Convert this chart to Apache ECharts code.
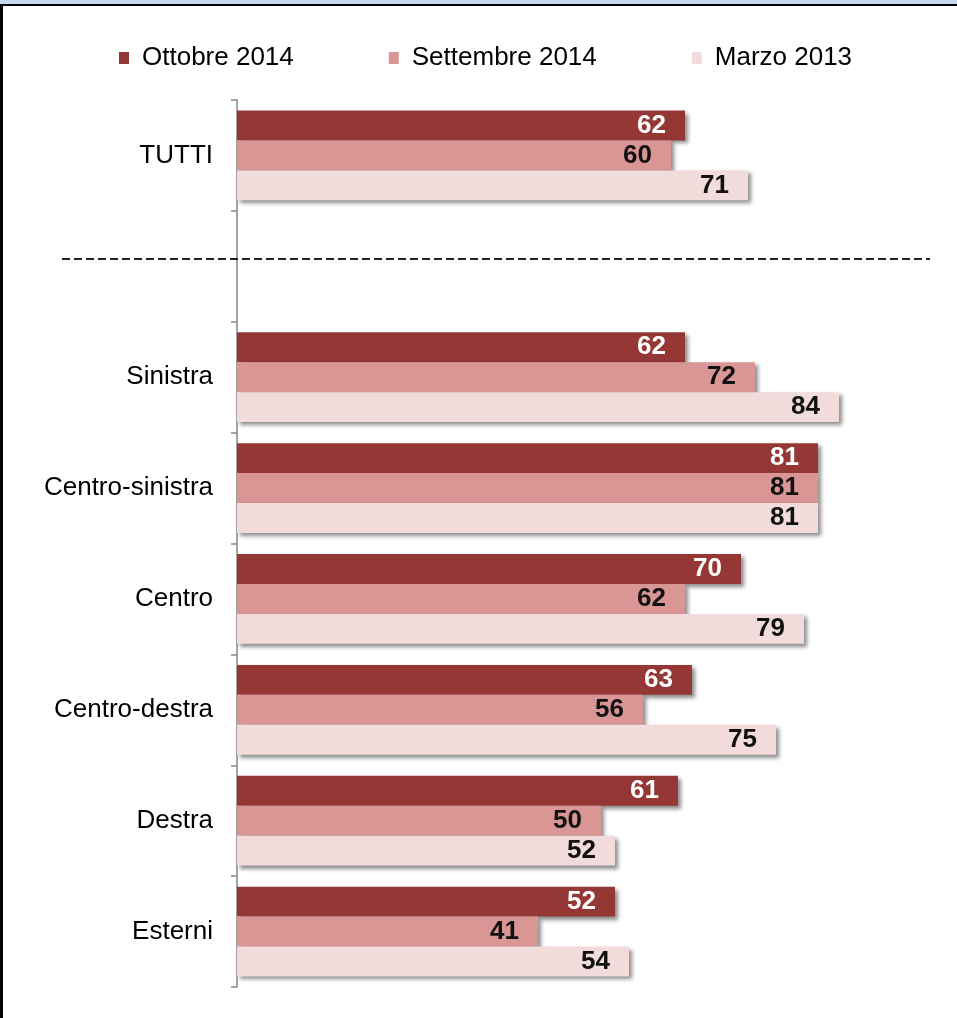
<!DOCTYPE html>
<html>
<head>
<meta charset="utf-8">
<script src="https://cdn.jsdelivr.net/npm/echarts@6/dist/echarts.min.js"></script>
<style>
html,body{margin:0;padding:0;background:#fff;}
#wrap{position:relative;width:957px;height:1018px;overflow:hidden;}
#chart{position:absolute;left:0;top:0;width:957px;height:1018px;}
#topband{position:absolute;left:0;top:0;width:957px;height:4px;background:#C6D9F1;z-index:2;}
#topline{position:absolute;left:0;top:4px;width:957px;height:2px;background:#000;z-index:2;}
#leftline{position:absolute;left:0;top:4px;width:3px;height:1014px;background:#000;z-index:2;}
</style>
</head>
<body>
<div id="wrap">
<div id="chart"></div>
<div id="topband"></div><div id="topline"></div><div id="leftline"></div>
</div>
<script>
const categories = ['TUTTI', '', 'Sinistra', 'Centro-sinistra', 'Centro', 'Centro-destra', 'Destra', 'Esterni'];
const seriesNames = ['Ottobre 2014', 'Settembre 2014', 'Marzo 2013'];
const ottobre2014 = [62, null, 62, 81, 70, 63, 61, 52];
const settembre2014 = [60, null, 72, 81, 62, 56, 50, 41];
const marzo2013 = [71, null, 84, 81, 79, 75, 52, 54];

const colors = ['#953735', '#D99694', '#F2DCDB'];
const labelColors = ['#ffffff', '#111111', '#111111'];
const FONT = '"Liberation Sans", Arial, sans-serif';

const chart = echarts.init(document.getElementById('chart'));
const dataSets = [ottobre2014, settembre2014, marzo2013];

chart.setOption({
  animation: false,
  color: colors,
  legend: {
    top: 40,
    left: 114,
    itemWidth: 10,
    itemHeight: 12,
    itemGap: 95,
    icon: 'rect',
    textStyle: { fontSize: 26, color: '#000', fontFamily: FONT, padding: [0, 0, 0, 8] },
    data: seriesNames
  },
  grid: { left: 237, top: 100, width: 714, height: 887, containLabel: false },
  xAxis: {
    type: 'value', min: -2, max: 100, startValue: -2, show: false,
    splitLine: { show: false }
  },
  yAxis: {
    type: 'category',
    inverse: true,
    data: categories,
    axisLine: { onZero: false, lineStyle: { color: '#868686', width: 1.5 } },
    axisTick: { show: true, length: 6, lineStyle: { color: '#868686', width: 1.5 } },
    axisLabel: { fontSize: 26, color: '#000', margin: 24, fontFamily: FONT }
  },
  series: dataSets.map((d, i) => ({
    name: seriesNames[i],
    type: 'bar',
    data: d,
    barGap: '0%',
    barCategoryGap: '19%',
    itemStyle: {
      color: colors[i],
      shadowBlur: 4,
      shadowColor: 'rgba(0,0,0,0.45)',
      shadowOffsetX: 3,
      shadowOffsetY: 3
    },
    label: {
      show: true,
      position: 'insideRight',
      distance: 19,
      color: labelColors[i],
      fontSize: 26,
      fontWeight: 'bold',
      fontFamily: FONT,
      formatter: p => (p.value == null ? '' : p.value)
    }
  })),
  graphic: [{
    type: 'line',
    shape: { x1: 62, y1: 259, x2: 930, y2: 259 },
    style: { stroke: '#222', lineWidth: 2, lineDash: [8, 4] },
    z: 10
  }]
});
</script>
</body>
</html>
